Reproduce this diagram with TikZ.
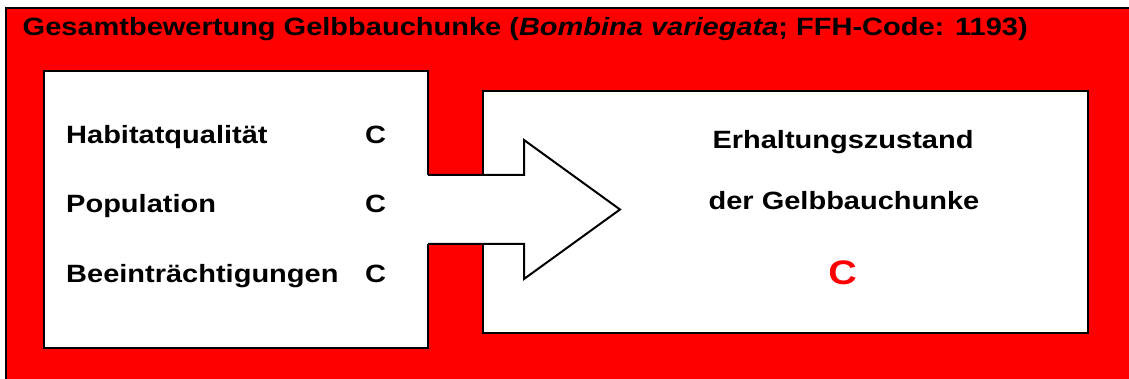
\documentclass[tikz,border=0pt]{standalone}
\usepackage{fontspec}
\setmainfont{Liberation Sans}[FakeStretch=1.16]
\begin{document}
\begin{tikzpicture}[x=1pt,y=1pt,
  frame/.style={draw=black,line width=2.2pt},
  panel/.style={draw=black,fill=white,line width=2pt},
  label/.style={anchor=base west,inner sep=0pt,font=\fontsize{25}{30}\selectfont\bfseries},
  centred/.style={anchor=base,inner sep=0pt,font=\fontsize{25}{30}\selectfont\bfseries}]
\useasboundingbox (0,0) rectangle (1129,379);
\clip (0,0) rectangle (1129,379);
% red background frame
\fill[white] (0,0) rectangle (1129,379);
\draw[frame,fill=red] (6,-20) rectangle (1150,371);
% left and right panels
\draw[panel] (44,31) rectangle (428,308);
\draw[panel] (483,46) rectangle (1088,288);
% block arrow between the panels
\coordinate (s1) at (427,204);
\coordinate (s2) at (524,204);
\coordinate (h1) at (524,239);
\coordinate (tip) at (620,169.5);
\coordinate (h2) at (524,100);
\coordinate (s3) at (524,135);
\coordinate (s4) at (427,135);
\fill[white] (s1) -- (s2) -- (h1) -- (tip) -- (h2) -- (s3) -- (s4) -- cycle;
\draw[line width=2pt,line join=miter] (428,204) -- (s2) -- (h1) -- (tip) -- (h2) -- (s3) -- (428,135);
% title
\node[label] (title) at (22.5,343) {Gesamtbewertung Gelbbauchunke (\textit{Bombina variegata}; FFH-Code: 1193)};
% criteria
\node[label] (hab) at (66,235) {Habitatqualität};
\node[label] (pop) at (66,166.5) {Population};
\node[label] (bee) at (66,96.5) {Beeinträchtigungen};
\node[label] (habc) at (365,235) {C};
\node[label] (popc) at (365,166.5) {C};
\node[label] (beec) at (365,96.5) {C};
% result
\node[centred] (erh) at (843,230.5) {Erhaltungszustand};
\node[centred] (gelb) at (844,169.5) {der Gelbbauchunke};
\node[anchor=base,inner sep=0pt,font=\fontsize{34}{40}\selectfont\bfseries,text=red] (res) at (842.5,94) {C};
\end{tikzpicture}
\end{document}
